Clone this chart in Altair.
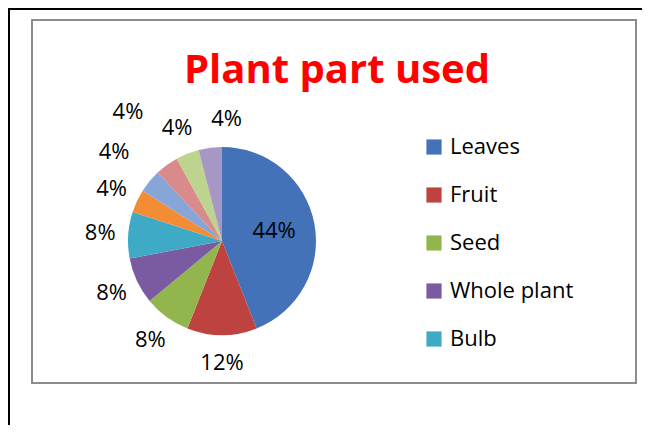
import altair as alt
import pandas as pd

# ---- data ----
parts = ["Leaves", "Fruit", "Seed", "Whole plant", "Bulb",
         "Root", "Stem", "Bark", "Flower", "Rhizome"]
shares = [44, 12, 8, 8, 8, 4, 4, 4, 4, 4]
colors = ["#4372B8", "#BE423F", "#93B54D", "#7A5AA0", "#3FAAC6",
          "#F38D35", "#87A5D6", "#D88B8A", "#BCD48E", "#A797C5"]
legend_parts = parts[:5]
title_text = "Plant part used"

df = pd.DataFrame({"part": parts, "share": shares, "idx": list(range(len(parts)))})
total = sum(shares)

W, H = 634, 417
CX, CY, R = 214, 233, 94
FONT = "Open Sans"

frame = alt.Data(values=[{}])

box = alt.Chart(frame).mark_rect(fill="white", stroke="#8c8c8c", strokeWidth=2).encode(
    x=alt.value(24), x2=alt.value(628), y=alt.value(12), y2=alt.value(375)
)
outer_top = alt.Chart(frame).mark_rule(color="black", strokeWidth=2).encode(
    x=alt.value(0), x2=alt.value(W), y=alt.value(1)
)
outer_left = alt.Chart(frame).mark_rule(color="black", strokeWidth=2).encode(
    x=alt.value(1), y=alt.value(0), y2=alt.value(H)
)

title = alt.Chart(frame).mark_text(
    text=title_text, font=FONT, fontSize=40, fontWeight="bold", color="#FF0000",
    align="center", baseline="alphabetic"
).encode(x=alt.value(329), y=alt.value(75))

theta_scale = alt.Scale(domain=[0, total])

pie = alt.Chart(df).mark_arc(outerRadius=R).encode(
    theta=alt.Theta("share:Q", stack=True, scale=theta_scale),
    order=alt.Order("idx:Q"),
    x=alt.value(CX), y=alt.value(CY),
    color=alt.Color(
        "part:N", sort=parts,
        scale=alt.Scale(domain=parts, range=colors),
        legend=alt.Legend(
            values=legend_parts, title=None, orient="none",
            legendX=415, legendY=128, padding=0,
            symbolType="square", symbolSize=230, symbolStrokeWidth=0,
            labelFont=FONT, labelFontSize=22, labelColor="black",
            labelOffset=5, rowPadding=26,
        ),
    ),
)

# outside labels, with a best-fit style nudge for the crowded small slices
labels = alt.Chart(df).transform_window(
    cum="sum(share)", sort=[alt.SortField("idx")]
).transform_calculate(
    mid="datum.cum - datum.share / 2 + (datum.idx == 9 ? 2.6 : 0)",
    label="datum.share + '%'",
    r="datum.share > 20 ? 53 : datum.idx == 6 ? 140 : datum.idx == 7 ? 160 : 122",
).mark_text(font=FONT, fontSize=22, color="black").encode(
    theta=alt.Theta("mid:Q", stack=None, scale=theta_scale),
    x=alt.value(CX), y=alt.value(CY),
    radius=alt.Radius("r:Q", scale=None),
    text=alt.Text("label:N"),
)

chart = alt.layer(box, outer_top, outer_left, title, pie, labels).properties(
    width=W, height=H,
    autosize=alt.AutoSizeParams(type="none"),
    padding=0,
).configure_view(stroke=None)

chart.save("out.html", embed_options={"renderer": "svg", "actions": False})
